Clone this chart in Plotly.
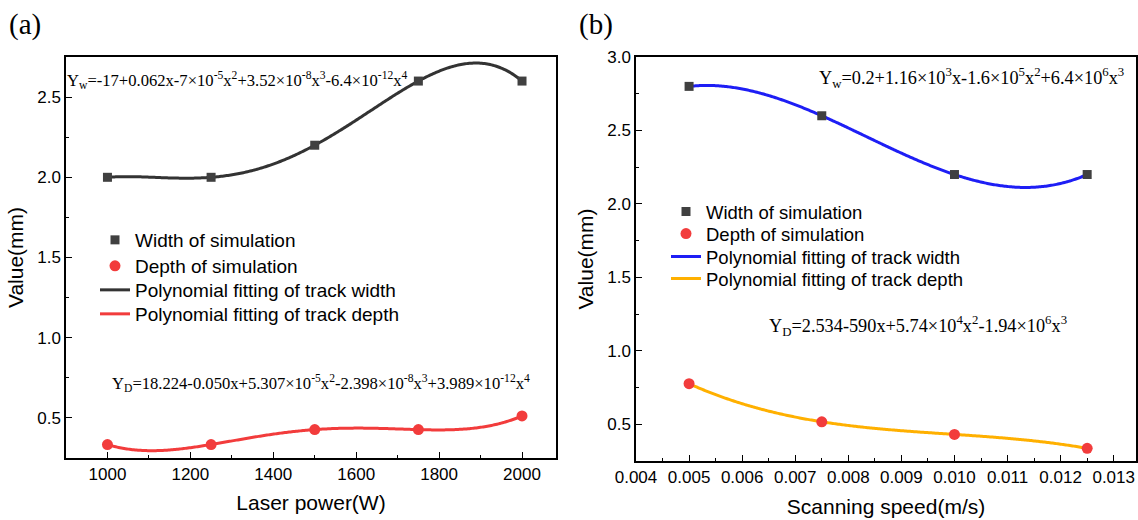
import numpy as np
import plotly.graph_objects as go

# ---- data ----
power = [1000, 1250, 1500, 1750, 2000]
width_a = [2.0, 2.0, 2.2, 2.6, 2.6]
depth_a = [0.334, 0.334, 0.427, 0.427, 0.512]

speed = [0.005, 0.0075, 0.010, 0.0125]
width_b = [2.8, 2.6, 2.2, 2.2]
depth_b = [0.776, 0.517, 0.431, 0.336]

legend_labels = ["Width of simulation", "Depth of simulation",
                 "Polynomial fitting of track width", "Polynomial fitting of track depth"]

eq_wa = "Y<sub>w</sub>=-17+0.062x-7×10<sup>-5</sup>x<sup>2</sup>+3.52×10<sup>-8</sup>x<sup>3</sup>-6.4×10<sup>-12</sup>x<sup>4</sup>"
eq_da = "Y<sub>D</sub>=18.224-0.050x+5.307×10<sup>-5</sup>x<sup>2</sup>-2.398×10<sup>-8</sup>x<sup>3</sup>+3.989×10<sup>-12</sup>x<sup>4</sup>"
eq_wb = "Y<sub>w</sub>=0.2+1.16×10<sup>3</sup>x-1.6×10<sup>5</sup>x<sup>2</sup>+6.4×10<sup>6</sup>x<sup>3</sup>"
eq_db = "Y<sub>D</sub>=2.534-590x+5.74×10<sup>4</sup>x<sup>2</sup>-1.94×10<sup>6</sup>x<sup>3</sup>"

W, H = 1138, 520
SANS = "Liberation Sans, Arial, sans-serif"
SERIF = "Liberation Serif, Times New Roman, serif"

GRAY = "#404040"
RED = "#F23C3C"
BLUE = "#1E1EF5"
ORANGE = "#FFB000"


def px_x(p):
    return p / W


def px_y(p):
    return 1 - p / H


def fit(x, y, deg):
    x = np.asarray(x, float)
    y = np.asarray(y, float)
    xs = x / x.max()
    c = np.polyfit(xs, y, deg)
    xx = np.linspace(x.min(), x.max(), 300)
    return xx, np.polyval(c, xx / x.max())


fig = go.Figure()

xa_w, ya_w = fit(power, width_a, 4)
xa_d, ya_d = fit(power, depth_a, 4)
xb_w, yb_w = fit(speed, width_b, 3)
xb_d, yb_d = fit(speed, depth_b, 3)

# panel a
fig.add_trace(go.Scatter(x=xa_w, y=ya_w, mode="lines", line=dict(color="#333333", width=3, simplify=False),
                         name=legend_labels[2], xaxis="x", yaxis="y", legend="legend3"))
fig.add_trace(go.Scatter(x=xa_d, y=ya_d, mode="lines", line=dict(color=RED, width=3, simplify=False),
                         name=legend_labels[3], xaxis="x", yaxis="y", legend="legend4"))
fig.add_trace(go.Scatter(x=power, y=width_a, mode="markers", marker=dict(symbol="square", size=9, color=GRAY),
                         name=legend_labels[0], xaxis="x", yaxis="y", legend="legend"))
fig.add_trace(go.Scatter(x=power, y=depth_a, mode="markers", marker=dict(symbol="circle", size=11, color=RED),
                         name=legend_labels[1], xaxis="x", yaxis="y", legend="legend2"))

# panel b
fig.add_trace(go.Scatter(x=xb_w, y=yb_w, mode="lines", line=dict(color=BLUE, width=3, simplify=False),
                         name=legend_labels[2], xaxis="x2", yaxis="y2", legend="legend7"))
fig.add_trace(go.Scatter(x=xb_d, y=yb_d, mode="lines", line=dict(color=ORANGE, width=3, simplify=False),
                         name=legend_labels[3], xaxis="x2", yaxis="y2", legend="legend8"))
fig.add_trace(go.Scatter(x=speed, y=width_b, mode="markers", marker=dict(symbol="square", size=9, color=GRAY),
                         name=legend_labels[0], xaxis="x2", yaxis="y2", legend="legend5"))
fig.add_trace(go.Scatter(x=speed, y=depth_b, mode="markers", marker=dict(symbol="circle", size=11, color=RED),
                         name=legend_labels[1], xaxis="x2", yaxis="y2", legend="legend6"))

axis_common = dict(showline=True, mirror=True, linecolor="black", linewidth=1.5,
                   ticks="inside", ticklen=6, tickwidth=1.3, tickcolor="black",
                   showgrid=False, zeroline=False, automargin=False,
                   tickfont=dict(family=SANS, size=17, color="black"),
                   title_font=dict(family=SANS, size=21, color="black"))

minor_common = dict(ticks="inside", ticklen=3, tickcolor="black", tickwidth=1.2)


def leg(xpx, row_center, size):
    return dict(x=px_x(xpx), y=px_y(row_center - 18), xanchor="left", yanchor="top",
                bgcolor="rgba(0,0,0,0)", font=dict(family=SANS, size=size, color="black"),
                itemwidth=30)


layout_legends = {}
rows_a = [239, 265, 289, 313]
rows_b = [211, 233, 256, 278]
for i, r in enumerate(rows_a):
    key = "legend" if i == 0 else "legend%d" % (i + 1)
    layout_legends[key] = leg(95, r, 19)
for i, r in enumerate(rows_b):
    layout_legends["legend%d" % (i + 5)] = leg(666, r, 18.5)

fig.update_layout(
    width=W, height=H, margin=dict(l=0, r=0, t=0, b=0),
    paper_bgcolor="white", plot_bgcolor="white",
    xaxis=dict(axis_common, domain=[px_x(66), px_x(556)], range=[900, 2082], anchor="y",
               dtick=200, tick0=1000, minor=dict(minor_common, dtick=100),
               title=dict(text="Laser power(W)", standoff=12)),
    yaxis=dict(axis_common, domain=[px_y(458), px_y(57)], range=[0.25, 2.75], anchor="x",
               dtick=0.5, tick0=0.5, tickformat=".1f", minor=dict(minor_common, dtick=0.25),
               title=dict(text="Value(mm)", standoff=8)),
    xaxis2=dict(axis_common, domain=[px_x(636), px_x(1136)], range=[0.004, 0.01342], anchor="y2",
                dtick=0.001, tick0=0.004, tickformat=".3f", minor=dict(minor_common, dtick=0.0005),
                title=dict(text="Scanning speed(m/s)", standoff=13)),
    yaxis2=dict(axis_common, domain=[px_y(461), px_y(57)], range=[0.25, 3.0], anchor="x2",
                dtick=0.5, tick0=0.5, tickformat=".1f", minor=dict(minor_common, dtick=0.25),
                title=dict(text="Value(mm)", standoff=8)),
    showlegend=True,
    **layout_legends,
)

ann = [
    dict(text="(a)", x=px_x(7), y=px_y(24), xanchor="left", yanchor="middle", font=dict(family=SERIF, size=29)),
    dict(text="(b)", x=px_x(577), y=px_y(24), xanchor="left", yanchor="middle", font=dict(family=SERIF, size=29)),
    dict(text=eq_wa, x=px_x(65), y=px_y(80), xanchor="left", yanchor="middle", font=dict(family=SERIF, size=16.6)),
    dict(text=eq_da, x=px_x(110), y=px_y(383), xanchor="left", yanchor="middle", font=dict(family=SERIF, size=16.6)),
    dict(text=eq_wb, x=px_x(817), y=px_y(78), xanchor="left", yanchor="middle", font=dict(family=SERIF, size=18.3)),
    dict(text=eq_db, x=px_x(767), y=px_y(326), xanchor="left", yanchor="middle", font=dict(family=SERIF, size=18.3)),
]
for a in ann:
    a.update(xref="paper", yref="paper", showarrow=False)
    a["font"]["color"] = "black"
fig.update_layout(annotations=ann)

fig.write_html("out.html")
